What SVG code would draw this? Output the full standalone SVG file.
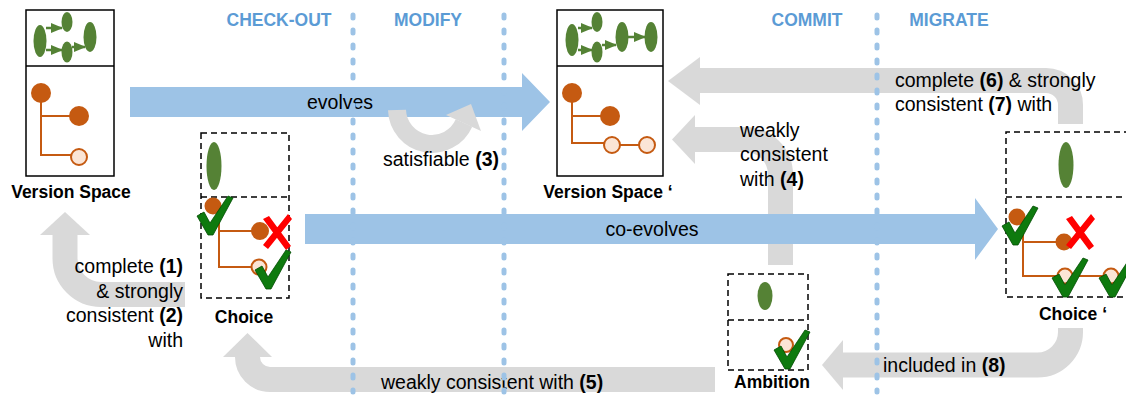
<svg xmlns="http://www.w3.org/2000/svg" width="1126" height="396" viewBox="0 0 1126 396">
<defs>
<style>
.lbl{font-family:"Liberation Sans",Arial,sans-serif;font-size:19.5px;fill:#000}
.b{font-weight:bold}
.name{font-family:"Liberation Sans",Arial,sans-serif;font-size:17.5px;font-weight:bold;fill:#000;text-anchor:middle}
.phase{font-family:"Liberation Sans",Arial,sans-serif;font-size:17.5px;font-weight:bold;fill:#5B9BD5;text-anchor:middle}
.box{fill:#fff;stroke:#000;stroke-width:1.5}
.dbox{fill:#fff;stroke:#000;stroke-width:1.5;stroke-dasharray:6 4}
.div{stroke:#000;stroke-width:1.5}
.ddiv{stroke:#000;stroke-width:1.5;stroke-dasharray:6 4}
.leaf{fill:#548235;filter:url(#soft)}
.on{fill:#C55A11}
.off{fill:#FBE5D6;stroke:#C55A11;stroke-width:2}
.edge{fill:none;stroke:#C55A11;stroke-width:2}
.garr{fill:none;stroke:#548235;stroke-width:2.5;marker-end:url(#gh)}
.gray{fill:none;stroke:#D9D9D9;stroke-width:25}
.grayh{fill:#D9D9D9}
.blue{fill:#9DC3E6}
.sep{stroke:#9DC3E6;stroke-width:5;stroke-dasharray:3 12;stroke-linecap:round}
.chk{fill:#0E7A0E;stroke:#004B00;stroke-width:0.8}
.x{fill:#FF0000}
</style>
<filter id="soft" x="-50%" y="-20%" width="200%" height="140%"><feGaussianBlur stdDeviation="0.6"/></filter>
<marker id="gh" markerUnits="userSpaceOnUse" viewBox="0 0 12 10" refX="11" refY="5" markerWidth="12" markerHeight="10" orient="auto"><path d="M0,0 L12,5 L0,10 Z" fill="#548235"/></marker>
<path id="chk" d="M-13,-17 L-6,-21 L0,-10 L18,-37 L23,-35 L3,2 L-2,2 Z"/>
<path id="xx" d="M-14,-13 L-8,-16 L14,14 L9,18 Z M11,-18 L15,-13 L-9,17 L-14,13 Z"/>
</defs>

<g id="connectors">
  <!-- blue evolve bars -->
  <path class="blue" d="M130,87 H522 V73 L550,102 L522,131 V117 H130 Z"/>
  <path class="blue" d="M305,214 H975 V198 L998,229 L975,260 V244 H305 Z"/>
  <!-- satisfiable loop -->
  <path d="M397,110 A35,35 0 0 0 464,123" fill="none" stroke="#D9D9D9" stroke-width="18"/>
  <polygon class="grayh" points="446,115 471,104 481,131"/>
  <!-- complete & strongly consistent (1)(2) -->
  <path class="gray" d="M185,294.5 H101 A36,36 0 0 1 65,258.5 V234"/>
  <polygon class="grayh" points="40,235 65,212 90,235"/>
  <!-- complete (6) & strongly consistent (7) -->
  <path class="gray" d="M699,80.5 H1046 A24.5,24.5 0 0 1 1070.5,105 V124"/>
  <polygon class="grayh" points="700,57 668,81 700,105"/>
  <!-- weakly consistent (4) -->
  <path class="gray" d="M694,139.5 H745.5 A35,35 0 0 1 780.5,174.5 V265"/>
  <polygon class="grayh" points="695,115 672,139.5 695,164"/>
  <!-- included in (8) -->
  <path class="gray" d="M1070.5,328 V332 A33,33 0 0 1 1037.5,365 H842"/>
  <polygon class="grayh" points="843,340 822,365 843,390"/>
  <!-- weakly consistent (5) -->
  <path class="gray" d="M715,379.5 H270 A22.5,22.5 0 0 1 247.5,357 V356"/>
  <polygon class="grayh" points="223,357 247.5,333 272,357"/>
  <!-- co-evolves bar over (4) vertical -->
  <path class="blue" d="M760,214 H800 V244 H760 Z"/>
  <!-- labels -->
  <text class="lbl" x="340" y="109" text-anchor="middle">evolves</text>
  <text class="lbl" x="383" y="166">satisfiable <tspan class="b">(3)</tspan></text>
  <text class="lbl" x="652" y="236" text-anchor="middle">co-evolves</text>
  <text class="lbl" x="740" y="137">weakly</text>
  <text class="lbl" x="740" y="161">consistent</text>
  <text class="lbl" x="740" y="186">with <tspan class="b">(4)</tspan></text>
  <text class="lbl" x="895" y="87">complete <tspan class="b">(6)</tspan> &amp; strongly</text>
  <text class="lbl" x="895" y="111">consistent <tspan class="b">(7)</tspan> with</text>
  <text class="lbl" x="183" y="273" text-anchor="end">complete <tspan class="b">(1)</tspan></text>
  <text class="lbl" x="183" y="298" text-anchor="end">&amp; strongly</text>
  <text class="lbl" x="183" y="322" text-anchor="end">consistent <tspan class="b">(2)</tspan></text>
  <text class="lbl" x="183" y="347" text-anchor="end">with</text>
  <text class="lbl" x="381" y="389">weakly consistent with <tspan class="b">(5)</tspan></text>
  <text class="lbl" x="883" y="372">included in <tspan class="b">(8)</tspan></text>
</g>

<g id="phases">
  <line class="sep" x1="353" y1="15" x2="353" y2="392"/>
  <line class="sep" x1="504" y1="15" x2="504" y2="392"/>
  <line class="sep" x1="877" y1="15" x2="877" y2="392"/>
  <text class="phase" x="279" y="26">CHECK-OUT</text>
  <text class="phase" x="428" y="26">MODIFY</text>
  <text class="phase" x="807" y="26">COMMIT</text>
  <text class="phase" x="949" y="26">MIGRATE</text>
</g>

<g id="version-space">
  <rect class="box" x="26" y="10" width="88" height="166"/>
  <line class="div" x1="26" y1="66" x2="114" y2="66"/>
  <path class="garr" d="M46,28 H62"/>
  <path class="garr" d="M46,50 H62"/>
  <path class="garr" d="M72,47 H85"/>
  <ellipse class="leaf" cx="40" cy="41" rx="6.5" ry="16"/>
  <ellipse class="leaf" cx="67" cy="22" rx="5.5" ry="10"/>
  <ellipse class="leaf" cx="67" cy="52" rx="5.5" ry="10.5"/>
  <ellipse class="leaf" cx="90" cy="37" rx="6.5" ry="15"/>
  <path class="edge" d="M41,93 V155 H79 M41,116 H79"/>
  <circle class="on" cx="41" cy="93" r="10"/>
  <circle class="on" cx="79" cy="116" r="10"/>
  <circle class="off" cx="79" cy="157" r="8"/>
  <text class="name" x="71" y="198">Version Space</text>
</g>

<g id="version-space-prime">
  <rect class="box" x="557" y="10" width="106" height="166"/>
  <line class="div" x1="557" y1="66" x2="663" y2="66"/>
  <path class="garr" d="M578,28 H592"/>
  <path class="garr" d="M578,50 H592"/>
  <path class="garr" d="M602,45 H616"/>
  <path class="garr" d="M628,37 H645"/>
  <ellipse class="leaf" cx="572" cy="40" rx="6.5" ry="16"/>
  <ellipse class="leaf" cx="597" cy="22" rx="5.5" ry="10"/>
  <ellipse class="leaf" cx="597" cy="52" rx="5.5" ry="10.5"/>
  <ellipse class="leaf" cx="622" cy="37" rx="6.5" ry="15"/>
  <ellipse class="leaf" cx="651" cy="37" rx="6.5" ry="15"/>
  <path class="edge" d="M572,93 V143 H612 M572,116 H610 M612,145 H647"/>
  <circle class="on" cx="572" cy="93" r="10"/>
  <circle class="on" cx="610" cy="116" r="10"/>
  <circle class="off" cx="612" cy="145" r="8"/>
  <circle class="off" cx="647" cy="145" r="8"/>
  <text class="name" x="608" y="198">Version Space ‘</text>
</g>

<g id="choice">
  <rect class="dbox" x="201" y="133" width="88" height="165"/>
  <line class="ddiv" x1="201" y1="197" x2="289" y2="197"/>
  <ellipse class="leaf" cx="214" cy="166" rx="7.5" ry="24"/>
  <path class="edge" d="M219,206 V267 H258 M219,231 H260"/>
  <circle class="on" cx="213" cy="206" r="8.5"/>
  <circle class="on" cx="260" cy="231" r="9"/>
  <circle class="off" cx="259" cy="267" r="7.5"/>
  <use href="#chk" class="chk" transform="translate(210,233)"/>
  <use href="#xx" class="x" transform="translate(277,232)"/>
  <use href="#chk" class="chk" transform="translate(268,287)"/>
  <text class="name" x="244" y="323">Choice</text>
</g>

<g id="ambition">
  <rect class="dbox" x="728" y="274" width="80" height="96"/>
  <line class="ddiv" x1="728" y1="320" x2="808" y2="320"/>
  <ellipse class="leaf" cx="765" cy="296" rx="7.5" ry="14"/>
  <circle class="off" cx="786" cy="345" r="7"/>
  <use href="#chk" class="chk" transform="translate(787,367)"/>
  <text class="name" x="772" y="388">Ambition</text>
</g>

<g id="choice-prime">
  <path class="ddiv" d="M1130,132 H1006 V297 H1130" fill="#fff"/>
  <line class="ddiv" x1="1006" y1="197" x2="1130" y2="197"/>
  <ellipse class="leaf" cx="1066" cy="165" rx="7.5" ry="23"/>
  <path class="edge" d="M1023,217 V276 H1111 M1023,242 H1064"/>
  <circle class="on" cx="1017" cy="217" r="8.5"/>
  <circle class="on" cx="1064" cy="242" r="8.5"/>
  <circle class="off" cx="1065" cy="276" r="7.5"/>
  <circle class="off" cx="1111" cy="276" r="7.5"/>
  <use href="#chk" class="chk" transform="translate(1015,243)"/>
  <use href="#xx" class="x" transform="translate(1080,232)"/>
  <use href="#chk" class="chk" transform="translate(1065,295)"/>
  <use href="#chk" class="chk" transform="translate(1112,295)"/>
  <text class="name" x="1073" y="320">Choice ‘</text>
</g>
</svg>
